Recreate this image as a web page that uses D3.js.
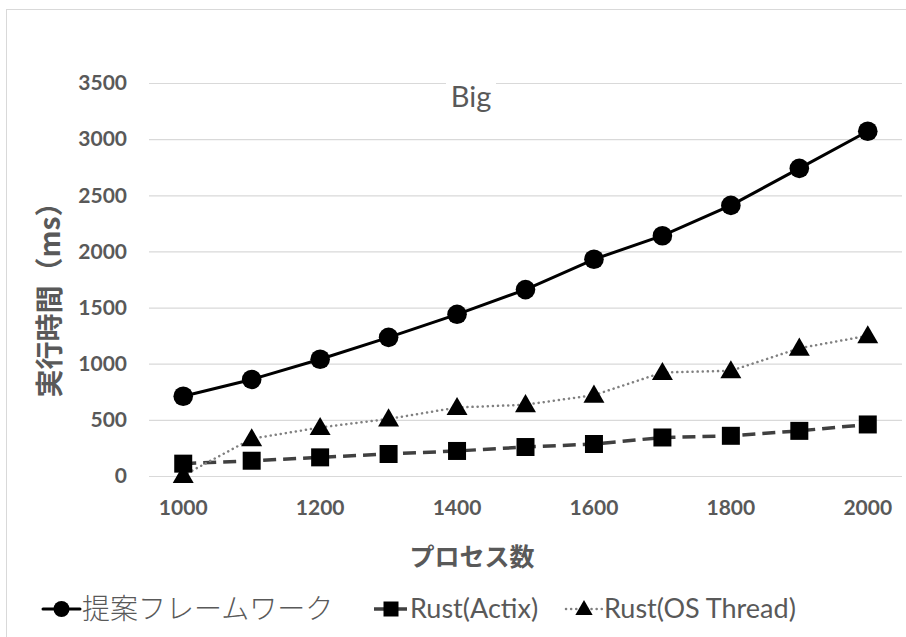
<!DOCTYPE html>
<html>
<head>
<meta charset="utf-8">
<script src="https://cdn.jsdelivr.net/npm/d3@7/dist/d3.min.js"></script>
<style>
  html, body { margin: 0; padding: 0; background: #fff; }
  svg { display: block; }
</style>
</head>
<body>
<svg id="chart" width="906" height="637"></svg>
<script>
// Process counts on the category axis
const categories = [1000, 1100, 1200, 1300, 1400, 1500, 1600, 1700, 1800, 1900, 2000];
// Execution time (ms) per implementation
const proposedValues = [710, 860, 1040, 1235, 1440, 1660, 1930, 2140, 2410, 2740, 3070];
const actixValues    = [110, 136, 166, 196, 223, 258, 285, 343, 358, 402, 459];
const osThreadValues = [5, 332, 432, 508, 610, 635, 720, 922, 937, 1138, 1249];
const yTicks = [0, 500, 1000, 1500, 2000, 2500, 3000, 3500];
const xTickLabels = [1000, 1200, 1400, 1600, 1800, 2000];
const seriesNames = ["提案フレームワーク", "Rust(Actix)", "Rust(OS Thread)"];

const svg = d3.select("#chart");
const W = 906, H = 637;
const plot = { left: 149, right: 902, top: 83, bottom: 476 };
const gray = "#595959";
const latin = "Lato, 'Noto Sans', sans-serif";
const cjk = "'Noto Sans CJK JP', 'Noto Sans', sans-serif";

// chart frame
svg.append("rect")
  .attr("x", 6.5).attr("y", 9.5)
  .attr("width", W + 10).attr("height", H + 10)
  .attr("fill", "#fff").attr("stroke", "#d9d9d9").attr("stroke-width", 1);

const x = d3.scaleBand().domain(categories).range([plot.left, plot.right]).padding(0);
const cx = d => x(d) + x.bandwidth() / 2;
const y = d3.scaleLinear().domain([0, 3500]).range([plot.bottom, plot.top]);

// horizontal gridlines and value labels
const yAxis = d3.axisLeft(y).tickValues(yTicks).tickFormat(d3.format("d"))
  .tickSize(-(plot.right - plot.left)).tickPadding(22);
const gy = svg.append("g").attr("transform", `translate(${plot.left},0)`).call(yAxis);
gy.select(".domain").remove();
gy.selectAll(".tick line").attr("stroke", "#d9d9d9").attr("stroke-width", 1.2);
gy.selectAll(".tick text")
  .attr("fill", gray).attr("font-family", latin).attr("font-weight", 700).attr("font-size", 21);

// category labels (every other category)
const xAxis = d3.axisBottom(x).tickValues(xTickLabels).tickSize(0).tickPadding(24);
const gx = svg.append("g").attr("transform", `translate(0,${plot.bottom})`).call(xAxis);
gx.select(".domain").remove();
gx.selectAll(".tick text")
  .attr("fill", gray).attr("font-family", latin).attr("font-weight", 700).attr("font-size", 21);

// chart title with a white backing over the top gridline
const title = svg.append("g");
title.append("rect").attr("x", 446).attr("y", 76).attr("width", 50).attr("height", 14).attr("fill", "#fff");
title.append("text").attr("x", 471).attr("y", 107).attr("text-anchor", "middle")
  .attr("fill", gray).attr("font-family", latin).attr("font-size", 29).text("Big");

// axis titles
svg.append("text")
  .attr("transform", "translate(60,293) rotate(-90)")
  .attr("text-anchor", "middle")
  .attr("fill", gray).attr("font-family", cjk).attr("font-weight", 700).attr("font-size", 28)
  .text("実行時間（ms）");
svg.append("text")
  .attr("x", 472).attr("y", 566).attr("text-anchor", "middle")
  .attr("fill", gray).attr("font-family", cjk).attr("font-weight", 700).attr("font-size", 25)
  .text("プロセス数");

const series = [
  { name: seriesNames[0], values: proposedValues, stroke: "#000", width: 3, dash: null, cap: "round", marker: "circle" },
  { name: seriesNames[1], values: actixValues, stroke: "#404040", width: 3.5, dash: "13,7", cap: "butt", marker: "square" },
  { name: seriesNames[2], values: osThreadValues, stroke: "#808080", width: 2.5, dash: "0.1,5", cap: "round", marker: "triangle" }
];

const line = d3.line().x((d, i) => cx(categories[i])).y(d => y(d));

const markerSymbol = {
  circle: d3.symbol().type(d3.symbolCircle).size(Math.PI * 9.8 * 9.8),
  square: d3.symbol().type(d3.symbolSquare).size(18 * 18),
  triangle: d3.symbol().type(d3.symbolTriangle).size(190)
};

// lines
series.forEach(s => {
  svg.append("path").datum(s.values)
    .attr("d", line)
    .attr("fill", "none")
    .attr("stroke", s.stroke)
    .attr("stroke-width", s.width)
    .attr("stroke-linecap", s.cap)
    .attr("stroke-dasharray", s.dash);
});

// markers
series.forEach(s => {
  svg.append("g").selectAll("path").data(s.values).join("path")
    .attr("transform", (d, i) => `translate(${cx(categories[i])},${y(d) + (s.marker === "triangle" ? 1.5 : 0)})`)
    .attr("d", markerSymbol[s.marker])
    .attr("fill", "#000");
});

// legend
const legendY = 609;
const legendItems = [
  { s: series[0], x0: 43, x1: 80, tx: 82 },
  { s: series[1], x0: 374, x1: 408, tx: 410 },
  { s: series[2], x0: 566, x1: 602, tx: 604 }
];
legendItems.forEach(li => {
  const g = svg.append("g");
  g.append("line")
    .attr("x1", li.x0).attr("x2", li.x1).attr("y1", legendY).attr("y2", legendY)
    .attr("stroke", li.s.stroke).attr("stroke-width", li.s.width)
    .attr("stroke-linecap", li.s.cap).attr("stroke-dasharray", li.s.dash);
  const sym = {
    circle: d3.symbol().type(d3.symbolCircle).size(Math.PI * 8 * 8),
    square: d3.symbol().type(d3.symbolSquare).size(15 * 15),
    triangle: d3.symbol().type(d3.symbolTriangle).size(130)
  }[li.s.marker];
  g.append("path")
    .attr("transform", `translate(${(li.x0 + li.x1) / 2},${legendY + (li.s.marker === "triangle" ? 1 : 0)})`)
    .attr("d", sym).attr("fill", "#000");
  g.append("text")
    .attr("x", li.tx).attr("y", legendY).attr("dy", "0.35em")
    .attr("fill", gray)
    .attr("font-family", li.s.marker === "circle" ? cjk : latin)
    .attr("font-weight", li.s.marker === "circle" ? 300 : 400)
    .attr("font-size", li.s.marker === "circle" ? 28 : 27)
    .text(li.s.name);
});
</script>
</body>
</html>
